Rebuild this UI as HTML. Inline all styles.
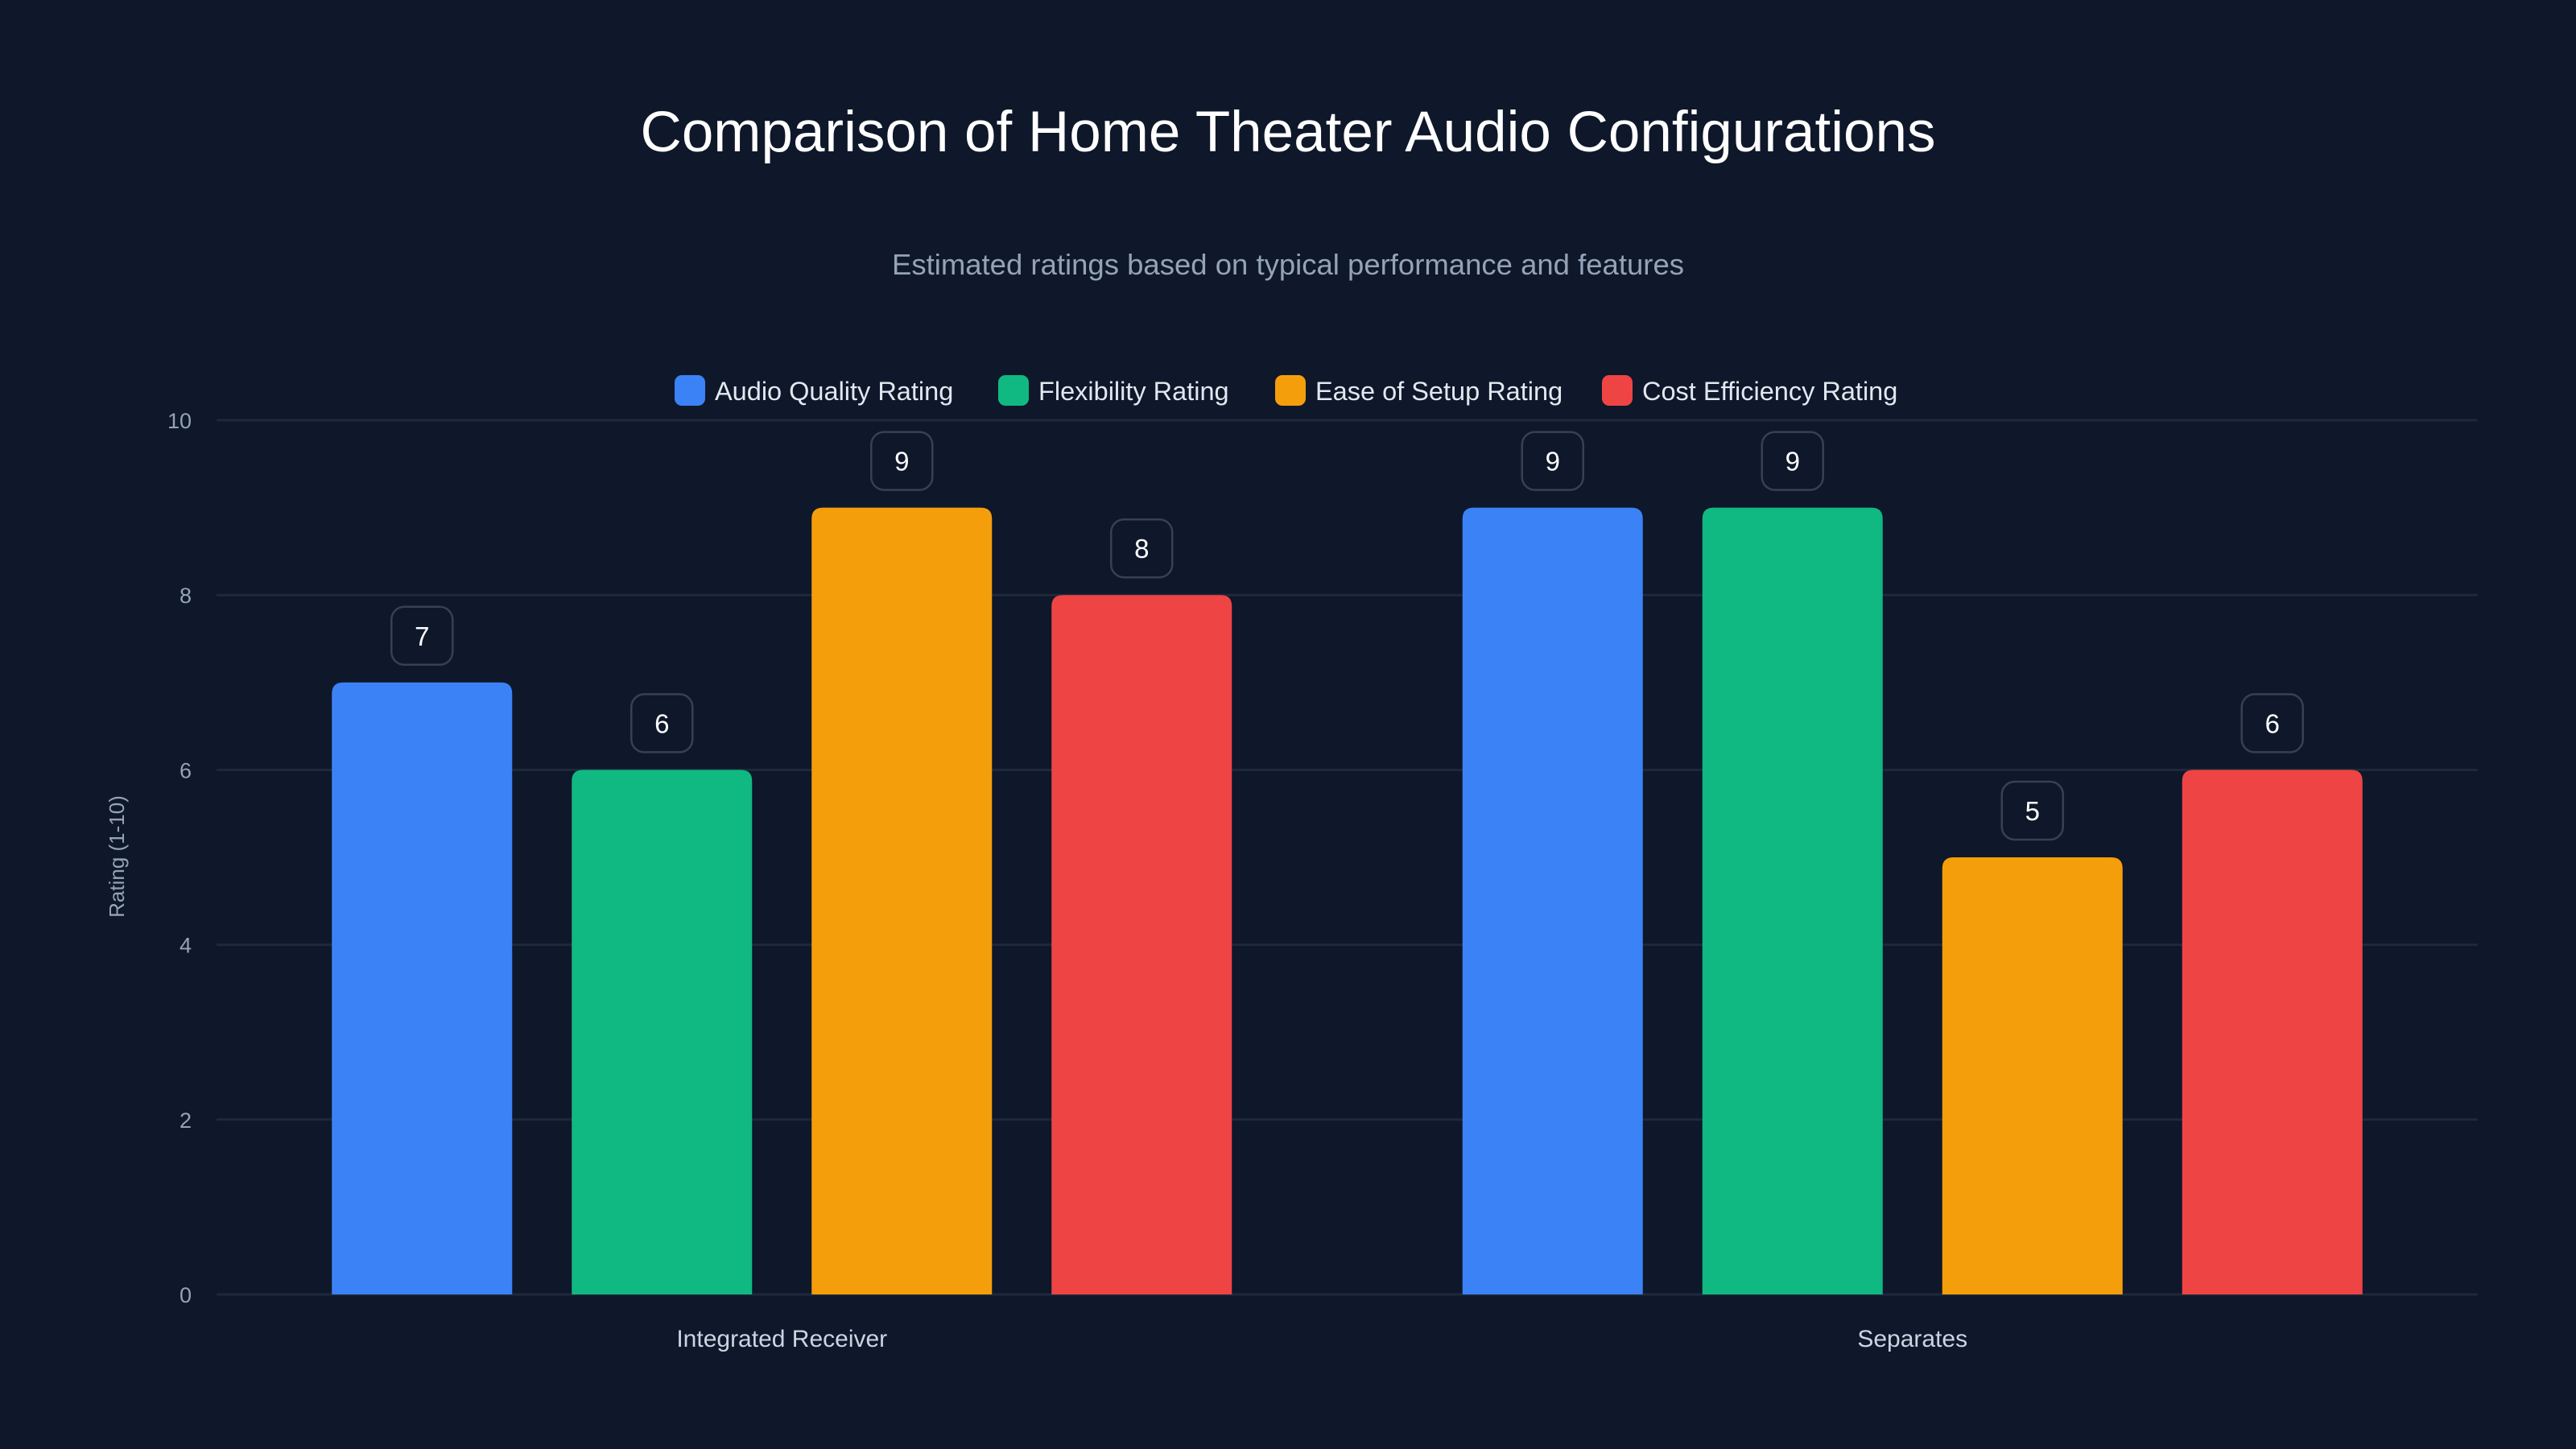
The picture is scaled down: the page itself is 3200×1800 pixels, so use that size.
<!DOCTYPE html>
<html><head><meta charset="utf-8"><style>
html,body{margin:0;padding:0;background:#0f172a;}
body{width:3200px;height:1800px;overflow:hidden;font-family:"Liberation Sans",sans-serif;}
</style></head><body>
<svg id="chart" width="3200" height="1800" xmlns="http://www.w3.org/2000/svg" style="position:absolute;left:0;top:0">
<rect width="3200" height="1800" fill="#0f172a"/>
<text x="1600" y="188" text-anchor="middle" fill="#ffffff" font-size="71" font-family="Liberation Sans, sans-serif">Comparison of Home Theater Audio Configurations</text>
<text x="1600" y="341" text-anchor="middle" fill="#94a3b8" font-size="36.5" font-family="Liberation Sans, sans-serif">Estimated ratings based on typical performance and features</text>
<text x="0" y="0" transform="translate(154,1064) rotate(-90)" text-anchor="middle" fill="#94a3b8" font-size="26" font-family="Liberation Sans, sans-serif">Rating (1-10)</text>
<g id="grid"></g><g id="bars"></g><g id="legend"></g>
</svg>
<script>
const categories = ["Integrated Receiver", "Separates"];
const seriesNames = ["Audio Quality Rating", "Flexibility Rating", "Ease of Setup Rating", "Cost Efficiency Rating"];
const seriesColors = ["#3b82f6", "#10b981", "#f59e0b", "#ef4444"];
const audioQuality = [7, 9];
const flexibility = [6, 9];
const easeOfSetup = [9, 5];
const costEfficiency = [8, 6];
const yTicks = [0, 2, 4, 6, 8, 10];

const NS = "http://www.w3.org/2000/svg";
const L = 269, R = 3078, T = 522, B = 1608, yMax = 10;
const y = v => B - (v / yMax) * (B - T);
const band = (R - L) / categories.length;
const xc = i => L + band * (i + 0.5);
const barW = 224, step = 298;
function mk(tag, attrs, parent, text) {
  const e = document.createElementNS(NS, tag);
  for (const k in attrs) e.setAttribute(k, attrs[k]);
  if (text !== undefined) e.textContent = text;
  parent.appendChild(e); return e;
}
const grid = document.getElementById("grid");
yTicks.forEach(t => {
  const ln = mk("line", {x1: L, x2: R, y1: y(t), y2: y(t), stroke: "#1e293b", "stroke-width": 3}, grid);
  
  
  const tx = mk("text", {x: 238, y: y(t) + 10, "text-anchor": "end", fill: "#94a3b8", "font-size": 27}, grid, String(t));
  
  
});
categories.forEach((c, i) => {
  const tx = mk("text", {x: xc(i), y: 1673, "text-anchor": "middle", fill: "#cbd5e1", "font-size": 30}, grid, c);
  
  
});
const series = [audioQuality, flexibility, easeOfSetup, costEfficiency];
const bars = document.getElementById("bars");
series.forEach((vals, s) => {
  vals.forEach((v, i) => {
    const cx = xc(i) + (s - 1.5) * step;
    const top = y(v), r = 14;
    const d = `M${cx - barW/2},${B} L${cx - barW/2},${top + r} Q${cx - barW/2},${top} ${cx - barW/2 + r},${top} L${cx + barW/2 - r},${top} Q${cx + barW/2},${top} ${cx + barW/2},${top + r} L${cx + barW/2},${B} Z`;
    const p = mk("path", {d: d, fill: seriesColors[s]}, bars);
    
    
    const bx = mk("rect", {x: cx - 38, y: top - 94, width: 76, height: 72, rx: 16, fill: "#0f172a", stroke: "#374151", "stroke-width": 2.5}, bars);
    
    
    const tx = mk("text", {x: cx, y: top - 46, "text-anchor": "middle", fill: "#ffffff", "font-size": 33}, bars, String(v));
    
    
  });
});
const legend = document.getElementById("legend");
const legendX = [838, 1240, 1584, 1990];
seriesNames.forEach((n, s) => {
  const g = mk("g", {}, legend);
  
  
  mk("rect", {x: legendX[s], y: 466, width: 38, height: 38, rx: 9, fill: seriesColors[s]}, g);
  mk("text", {x: legendX[s] + 50, y: 497, fill: "#e2e8f0", "font-size": 32.5}, g, n);
});
</script>
</body></html>
